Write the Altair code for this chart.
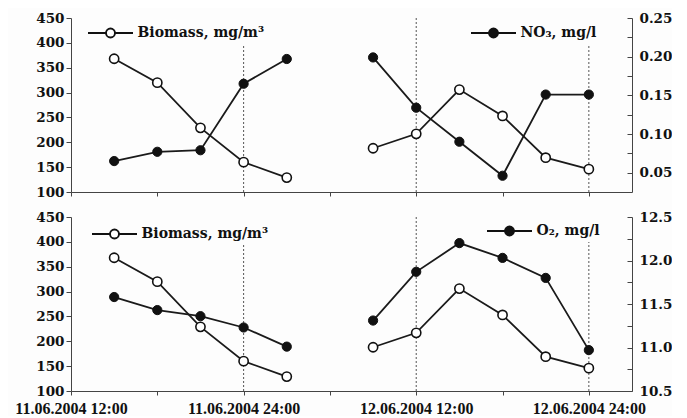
import altair as alt
import pandas as pd

# ---- data (hours after 11.06.2004 12:00) ----
hours_g1 = [3, 6, 9, 12, 15]
hours_g2 = [21, 24, 27, 30, 33, 36]

biomass_g1 = [368, 320, 229, 160, 129]
biomass_g2 = [188, 217, 306, 253, 169, 146]

no3_g1 = [0.065, 0.077, 0.079, 0.165, 0.197]
no3_g2 = [0.199, 0.134, 0.090, 0.046, 0.151, 0.151]

o2_g1 = [11.58, 11.43, 11.36, 11.23, 11.01]
o2_g2 = [11.31, 11.87, 12.20, 12.03, 11.80, 10.97]

marker_hours = [12, 24, 36]
tick_hours = [0, 12, 24, 36]
tick_labels = ["11.06.2004 12:00", "11.06.2004 24:00", "12.06.2004 12:00", "12.06.2004 24:00"]

biomass_name = "Biomass, mg/m³"
no3_name = "NO₃, mg/l"
o2_name = "O₂, mg/l"


def frame(name, g1, g2):
    return pd.DataFrame({
        "t": hours_g1 + hours_g2,
        "v": g1 + g2,
        "grp": ["a"] * len(g1) + ["b"] * len(g2),
        "series": [name] * (len(g1) + len(g2)),
    })


df_bio = frame(biomass_name, biomass_g1, biomass_g2)
df_no3 = frame(no3_name, no3_g1, no3_g2)
df_o2 = frame(o2_name, o2_g1, o2_g2)
df_rules = pd.DataFrame({"t": marker_hours})

# ---- style ----
W, H = 561, 174
AX = "#444444"
TXT = "#111111"
YFONT = "DejaVu Serif"
XFONT = "Liberation Serif"
LEG_PATH = ("M-1.5,0 L-0.3,0 M0.3,0 L1.5,0 "
            "M-0.3,0 A0.3,0.3 0 1,0 0.3,0 A0.3,0.3 0 1,0 -0.3,0 Z")

label_expr = " : ".join(
    f"datum.value == {h} ? '{lab}'" for h, lab in zip(tick_hours, tick_labels)
) + " : ''"

xscale = alt.Scale(domain=[0, 39], nice=False, zero=False)


def x_enc(show_labels):
    axis_kw = dict(
        title=None, values=list(range(0, 37, 6)), grid=False,
        domainColor=AX, tickColor=AX, tickSize=4, domainWidth=1,
        labelFlush=False, labelOverlap=False,
    )
    if show_labels:
        axis_kw.update(labelExpr=label_expr, labelFont=XFONT, labelFontSize=16,
                       labelFontWeight="bold", labelColor=TXT, labelPadding=5)
    else:
        axis_kw.update(labels=False)
    return alt.X("t:Q", scale=xscale, axis=alt.Axis(**axis_kw))


def legend(x, y):
    return alt.Legend(
        title=None, orient="none", legendX=x, legendY=y,
        symbolType=LEG_PATH, symbolSize=900, symbolStrokeWidth=1.9,
        labelFont=YFONT, labelFontSize=14, labelFontWeight="bold",
        labelColor=TXT, labelOffset=11, padding=2, fillColor="#fdfdfd",
    )


def panel(df_right, right_domain, right_values, right_fmt, right_step,
          show_x_labels, leg_left, leg_right):
    rules = alt.Chart(df_rules).mark_rule(
        color="#555555", strokeDash=[2, 2], strokeWidth=1
    ).encode(x=x_enc(show_x_labels))

    y_left = alt.Y("v:Q", scale=alt.Scale(domain=[100, 450], nice=False, zero=False),
                   axis=alt.Axis(title=None, orient="left", values=list(range(100, 451, 50)),
                                 grid=False, domainColor=AX, tickColor=AX, tickSize=5,
                                 labelFont=YFONT, labelFontSize=13.5, labelFontWeight="bold",
                                 labelColor=TXT, labelPadding=2, labelFlush=False))
    left_line = alt.Chart(df_bio).mark_line(color="#1a1a1a", strokeWidth=1.8).encode(
        x=x_enc(show_x_labels), y=y_left, detail="grp:N")
    left_pts = alt.Chart(df_bio).mark_point(
        filled=True, fill="white", size=85, strokeWidth=1.6, opacity=1
    ).encode(
        x=x_enc(show_x_labels), y=y_left,
        stroke=alt.Stroke("series:N", scale=alt.Scale(range=["#111111"]),
                          legend=legend(*leg_left)),
    )
    left = alt.layer(rules, left_line, left_pts)

    lab_expr = (f"abs(datum.value/{right_step} - round(datum.value/{right_step})) < 0.001"
                f" ? format(datum.value, '{right_fmt}') : ''")
    y_right = alt.Y("v:Q", scale=alt.Scale(domain=right_domain, nice=False, zero=False),
                    axis=alt.Axis(title=None, orient="right", values=right_values,
                                  grid=False, domainColor=AX, tickColor=AX,
                                  tickSize=alt.ExprRef("-5"),
                                  labelExpr=lab_expr,
                                  labelFont=YFONT, labelFontSize=13.5, labelFontWeight="bold",
                                  labelColor=TXT, labelPadding=12, labelFlush=False,
                                  labelOverlap=False))
    right_line = alt.Chart(df_right).mark_line(color="#1a1a1a", strokeWidth=1.8).encode(
        x=x_enc(show_x_labels), y=y_right, detail="grp:N")
    right_pts = alt.Chart(df_right).mark_point(
        filled=True, stroke="#111111", size=85, strokeWidth=1, opacity=1
    ).encode(
        x=x_enc(show_x_labels), y=y_right,
        fill=alt.Fill("series:N", scale=alt.Scale(range=["#111111"]),
                      legend=legend(*leg_right)),
    )
    right = alt.layer(right_line, right_pts)

    return alt.layer(left, right).resolve_scale(
        y="independent", stroke="independent", fill="independent"
    ).resolve_legend(stroke="independent", fill="independent").properties(width=W, height=H)


no3_vals = [round(0.05 + 0.025 * i, 3) for i in range(9)]
o2_vals = [round(10.5 + 0.25 * i, 2) for i in range(9)]

top = panel(df_no3, [0.025, 0.25], no3_vals, ".2f", 0.05, False,
            (21.5, -3), (404.5, -3))
bottom = panel(df_o2, [10.5, 12.5], o2_vals, ".1f", 0.5, True,
               (25.5, -1), (420.5, -4))

chart = alt.vconcat(top, bottom, spacing=11).resolve_scale(
    stroke="independent", fill="independent"
).resolve_legend(stroke="independent", fill="independent").properties(
    padding={"top": 3, "left": 6, "right": 0, "bottom": 0},
    background="#fdfdfd",
).configure_view(stroke=None)

chart.save("out.html", embed_options={"renderer": "svg", "actions": False})
